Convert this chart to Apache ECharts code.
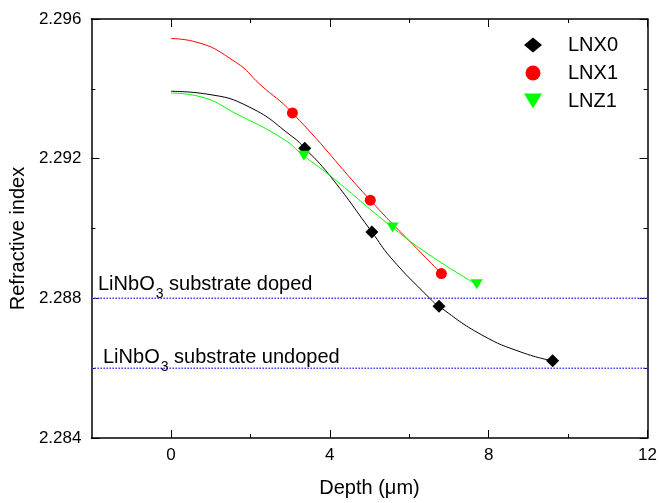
<!DOCTYPE html>
<html>
<head>
<meta charset="utf-8">
<script src="https://cdn.jsdelivr.net/npm/echarts@6/dist/echarts.min.js"></script>
<style>
	html,body{margin:0;padding:0;background:#fff;}
	#chart{width:660px;height:503px;}
</style>
</head>
<body>
<div id="chart"></div>
<script>
	// measured points [depth um, index]
	var lnx0Pts = [[3.37,2.2923],[5.06,2.2899],[6.75,2.28777],[9.61,2.28621]];
	var lnx1Pts = [[3.06,2.29331],[5.02,2.29081],[6.81,2.28871]];
	var lnz1Pts = [[3.35,2.29208],[5.58,2.29003],[7.7,2.2884]];
	// fitted curves
	var lnx0Fit = [[0,2.29393],[0.9,2.29385],[1.99,2.29347],[3.07,2.29262],[3.37,2.2923],[3.99,2.29153],[5.06,2.2899],[5.54,2.28916],[6.5,2.28802],[6.75,2.28777],[7.83,2.28695],[8.84,2.28645],[9.61,2.28621]];
	var lnx1Fit = [[0,2.29544],[0.57,2.29536],[1.65,2.29475],[2.24,2.29413],[3.06,2.29331],[5.02,2.29081],[6.42,2.28916],[6.81,2.28871]];
	var lnz1Fit = [[0,2.29388],[0.65,2.2938],[1.74,2.29323],[2.82,2.29257],[3.35,2.29208],[3.99,2.29153],[5.58,2.29003],[6.62,2.28916],[7.7,2.2884]];
	// substrate levels
	var refValues = [2.288, 2.286];
	var refLabels = ['doped', 'undoped'];
	var xMajor = [0,4,8,12];
	var xMinor = [2,6,10];

	var font = '"Liberation Sans", Arial, sans-serif';
	var triDown = 'path://M0,0 L12,0 L6,10 Z';

	function xAx(pos, ticks, len, labels, line){
		return {
			type:'value', position:pos, min:-2, max:12,
			axisLine:{show:line, onZero:false, lineStyle:{color:'#000', width:1.5}},
			axisTick:{show:true, inside:true, length:len, customValues:ticks, lineStyle:{color:'#000', width:1}},
			axisLabel:{show:labels, customValues:ticks, margin:9, color:'#000', fontSize:17, fontFamily:font},
			splitLine:{show:false}
		};
	}
	function yAx(pos, labels){
		return {
			type:'value', position:pos, min:2.284, max:2.296, interval:0.004,
			axisLine:{show:true, onZero:false, lineStyle:{color:'#000', width:1.5}},
			axisTick:{show:true, inside:true, length:8, lineStyle:{color:'#000', width:1}},
			minorTick:{show:true, splitNumber:2, length:4, lineStyle:{color:'#000', width:1}},
			axisLabel:{show:labels, margin:10, color:'#000', fontSize:17, fontFamily:font,
				formatter:function(v){ return v.toFixed(3); }},
			splitLine:{show:false}
		};
	}

	var xAxes = [xAx('bottom', xMinor, 4, false, true), xAx('bottom', xMajor, 8, true, false),
		xAx('top', xMinor, 4, false, true), xAx('top', xMajor, 8, false, false)];
	xAxes[1].name = 'Depth (\u03bcm)';
	xAxes[1].nameLocation = 'middle';
	xAxes[1].nameGap = 40;
	xAxes[1].nameTextStyle = {color:'#000', fontSize:20, fontFamily:font};

	var yAxes = [yAx('left', true), yAx('right', false)];
	yAxes[0].name = 'Refractive index';
	yAxes[0].nameLocation = 'middle';
	yAxes[0].nameGap = 56;
	yAxes[0].nameTextStyle = {color:'#000', fontSize:20, fontFamily:font, padding:[0,20,0,0]};

	function fitLine(name, pts, color){
		return {
			name:name, type:'line', data:pts, smooth:0.5,
			showSymbol:false, symbol:'none',
			xAxisIndex:0, yAxisIndex:0, silent:true,
			lineStyle:{color:color, width:1}
		};
	}
	function refLine(v){
		return {
			name:'ref ' + v, type:'line', data:[[-2,v],[12,v]], showSymbol:false, symbol:'none',
			xAxisIndex:0, yAxisIndex:0, silent:true, z:1,
			lineStyle:{color:'#3a3aff', type:'dotted', width:1.5}
		};
	}
	function dots(name, pts, color, symbol, size){
		return {
			name:name, type:'scatter', data:pts, xAxisIndex:0, yAxisIndex:0,
			symbol:symbol, symbolSize:size,
			itemStyle:{color:color, opacity:1}, z:3
		};
	}

	var series = refValues.map(refLine).concat([
		fitLine('LNX0 fit', lnx0Fit, '#000000'),
		fitLine('LNX1 fit', lnx1Fit, '#ff0000'),
		fitLine('LNZ1 fit', lnz1Fit, '#00ff00'),
		dots('LNX0', lnx0Pts, '#000000', 'diamond', 13),
		dots('LNX1', lnx1Pts, '#ff0000', 'circle', 11),
		dots('LNZ1', lnz1Pts, '#00ff00', triDown, [12,10])
	]);

	var option = {
		animation:false,
		backgroundColor:'#fff',
		grid:{left:91, right:11, top:19, bottom:61},
		xAxis:xAxes,
		yAxis:yAxes,
		legend:{
			data:['LNX0','LNX1','LNZ1'],
			orient:'vertical', left:519, top:30,
			itemWidth:18, itemHeight:15, itemGap:8,
			textStyle:{color:'#000', fontSize:20, fontFamily:font, lineHeight:20, padding:[0,0,0,21]}
		},
		series:series
	};

	var mychart = echarts.init(document.getElementById('chart'));
	mychart.setOption(option);

	// substrate labels above the dotted lines
	var labelX = [98, 103];
	var labelDy = [3, 6];
	var texts = refValues.map(function(v, i){
		var p = mychart.convertToPixel({gridIndex:0}, [-2, v]);
		return {
			type:'text', silent:true, z:5,
			style:{
				x:labelX[i], y:p[1] + labelDy[i], verticalAlign:'bottom', align:'left',
				text:'{a|LiNbO}{s|3}{a| substrate ' + refLabels[i] + '}',
				rich:{
					a:{fontSize:20, fill:'#000', fontFamily:font},
					s:{fontSize:14, fill:'#000', fontFamily:font, padding:[20,0,0,1]}
				}
			}
		};
	});
	mychart.setOption({graphic:texts});
</script>
</body>
</html>
